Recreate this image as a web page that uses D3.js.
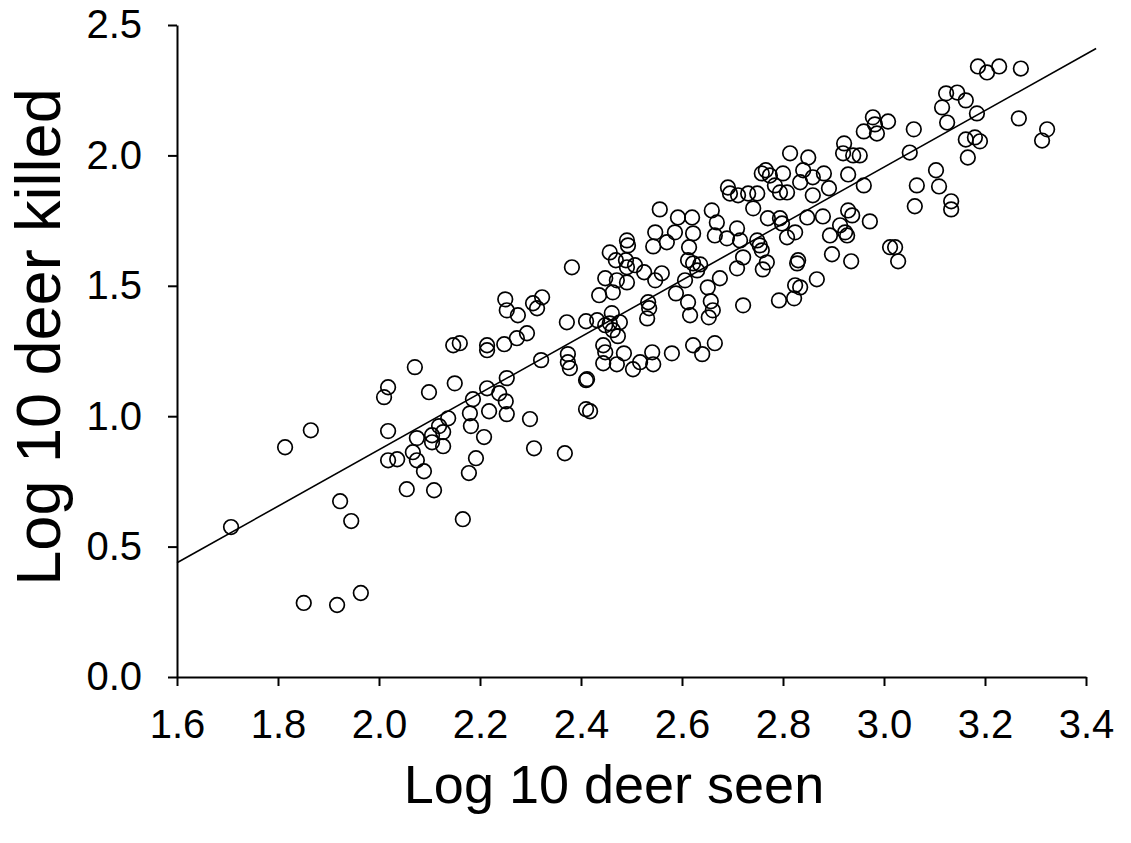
<!DOCTYPE html>
<html>
<head>
<meta charset="utf-8">
<script src="https://cdn.jsdelivr.net/npm/d3@7"></script>
<style>
  body { margin: 0; background: #fff; }
  svg { display: block; font-family: "Liberation Sans", Arial, Helvetica, sans-serif; }
</style>
</head>
<body>
<svg id="chart" width="1131" height="843"></svg>
<script>
// values (log10 scale)
const deerSeen = [
  1.707,1.814,1.865,1.923,1.945,1.851,1.917,1.964,2.018,2.010,
  2.071,2.099,2.018,2.075,2.067,2.018,2.036,2.075,2.089,2.055,
  2.109,2.105,2.105,2.119,2.127,2.127,2.137,2.150,2.214,2.238,
  2.253,2.186,2.180,2.218,2.251,2.253,2.299,2.410,2.410,2.418,
  2.182,2.208,2.192,2.178,2.307,2.368,2.166,
  2.382,2.556,2.592,2.547,2.586,2.543,2.570,2.491,2.493,2.457,
  2.469,2.489,2.491,2.507,2.525,2.560,2.547,2.448,2.471,2.491,
  2.436,2.463,2.588,2.533,2.535,2.531,2.250,2.253,2.275,2.305,
  2.323,2.313,2.372,2.410,2.432,2.461,2.457,2.448,2.477,2.473,
  2.463,2.147,2.160,2.214,2.214,2.248,2.273,2.293,2.321,2.374,
  2.374,2.378,2.412,2.444,2.448,2.444,2.471,2.485,2.503,2.517,
  2.541,2.543,2.580,
  2.814,2.850,2.919,2.939,2.952,2.766,2.758,2.774,2.800,2.840,
  2.859,2.881,2.834,2.929,2.784,2.794,2.808,2.891,2.859,2.960,
  2.691,2.695,2.711,2.731,2.749,2.741,2.659,2.620,2.669,2.770,
  2.794,2.798,2.848,2.879,2.929,2.937,2.972,2.622,2.665,2.689,
  2.709,2.715,2.749,2.754,2.808,2.824,2.893,2.913,2.923,2.927,
  2.614,2.721,2.758,2.768,2.612,2.622,2.636,2.630,2.709,2.760,
  2.830,2.828,2.897,2.935,3.012,3.022,3.028,2.606,2.675,2.651,
  2.657,2.661,2.612,2.616,2.653,2.721,2.824,2.834,2.867,2.792,
  2.822,2.665,2.622,2.640,
  2.978,3.008,2.982,2.960,2.986,2.921,3.186,3.204,3.228,3.271,
  3.123,3.145,3.162,3.115,3.125,3.184,3.267,3.059,3.323,3.313,
  3.051,3.162,3.180,3.190,3.166,3.103,3.065,3.109,3.061,3.133,
  3.133
];
const deerKilled = [
  0.575,0.881,0.946,0.674,0.598,0.284,0.276,0.322,1.111,1.073,
  1.188,1.092,0.943,0.916,0.862,0.831,0.835,0.831,0.789,0.720,
  0.716,0.927,0.900,0.962,0.939,0.885,0.992,1.126,1.107,1.088,
  1.146,1.065,1.011,1.019,1.057,1.008,0.989,1.138,1.027,1.019,
  0.962,0.920,0.839,0.782,0.877,0.858,0.605,
  1.571,1.793,1.762,1.705,1.705,1.651,1.667,1.674,1.655,1.628,
  1.598,1.598,1.571,1.579,1.552,1.548,1.521,1.529,1.521,1.513,
  1.464,1.475,1.471,1.437,1.414,1.375,1.448,1.406,1.387,1.433,
  1.456,1.414,1.360,1.364,1.368,1.395,1.356,1.349,1.360,1.307,
  1.330,1.272,1.280,1.272,1.253,1.276,1.299,1.318,1.215,1.238,
  1.207,1.184,1.142,1.272,1.245,1.203,1.199,1.241,1.180,1.207,
  1.245,1.199,1.241,
  2.008,1.992,2.008,2.000,2.000,1.943,1.931,1.923,1.931,1.943,
  1.916,1.931,1.897,1.927,1.885,1.858,1.858,1.874,1.847,1.885,
  1.877,1.854,1.847,1.854,1.854,1.797,1.789,1.762,1.743,1.759,
  1.759,1.739,1.762,1.766,1.789,1.770,1.747,1.701,1.693,1.682,
  1.720,1.674,1.674,1.655,1.686,1.705,1.693,1.732,1.705,1.693,
  1.648,1.609,1.636,1.590,1.598,1.586,1.582,1.559,1.567,1.563,
  1.598,1.586,1.621,1.594,1.648,1.648,1.594,1.521,1.529,1.494,
  1.441,1.406,1.437,1.387,1.379,1.425,1.502,1.494,1.525,1.444,
  1.452,1.280,1.272,1.238,
  2.146,2.130,2.119,2.092,2.084,2.046,2.341,2.318,2.341,2.333,
  2.238,2.241,2.211,2.184,2.126,2.161,2.142,2.100,2.100,2.057,
  2.011,2.061,2.069,2.054,1.992,1.943,1.885,1.881,1.805,1.824,
  1.793
];
// fitted line end points
const fitX = [1.6, 3.42];
const fitY = [0.438, 2.41];

const xTicks = [1.6, 1.8, 2.0, 2.2, 2.4, 2.6, 2.8, 3.0, 3.2, 3.4];
const yTicks = [0.0, 0.5, 1.0, 1.5, 2.0, 2.5];

const xLabel = "Log 10 deer seen";
const yLabel = "Log 10 deer killed";

const svg = d3.select("#chart");

const xScale = d3.scaleLinear().domain([1.6, 3.4]).range([177, 1086]);
const yScale = d3.scaleLinear().domain([0, 2.5]).range([677, 25]);

const data = deerSeen.map((d, i) => ({ seen: d, killed: deerKilled[i] }));

// axes
const xAxis = d3.axisBottom(xScale).tickValues(xTicks).tickFormat(d3.format(".1f"))
  .tickSize(9).tickSizeOuter(0).tickPadding(24);
const yAxis = d3.axisLeft(yScale).tickValues(yTicks).tickFormat(d3.format(".1f"))
  .tickSize(9).tickSizeOuter(0).tickPadding(26);

const gx = svg.append("g")
  .attr("transform", "translate(0," + yScale(0) + ")")
  .call(xAxis);
const gy = svg.append("g")
  .attr("transform", "translate(" + xScale(1.6) + ",0)")
  .call(yAxis);

[gx, gy].forEach(g => {
  g.select(".domain").attr("stroke", "#000").attr("stroke-width", 2);
  g.selectAll(".tick line").attr("stroke", "#000").attr("stroke-width", 2);
  g.selectAll(".tick text").attr("fill", "#000").style("font-size", "40px");
});

// regression line
const line = d3.line()
  .x(d => xScale(d[0]))
  .y(d => yScale(d[1]));

svg.append("path")
  .attr("d", line(fitX.map((x, i) => [x, fitY[i]])))
  .attr("fill", "none")
  .attr("stroke", "#000")
  .attr("stroke-width", 1.6);

// points
svg.append("g")
  .selectAll("circle")
  .data(data)
  .join("circle")
  .attr("cx", d => xScale(d.seen))
  .attr("cy", d => yScale(d.killed))
  .attr("r", 7.3)
  .attr("fill", "none")
  .attr("stroke", "#000")
  .attr("stroke-width", 1.7);

// axis titles
svg.append("text")
  .attr("x", 614)
  .attr("y", 803)
  .attr("text-anchor", "middle")
  .style("font-size", "54px")
  .text(xLabel);

svg.append("text")
  .attr("transform", "translate(60," + 337 + ") rotate(-90)")
  .attr("text-anchor", "middle")
  .style("font-size", "63px")
  .text(yLabel);
</script>
</body>
</html>
